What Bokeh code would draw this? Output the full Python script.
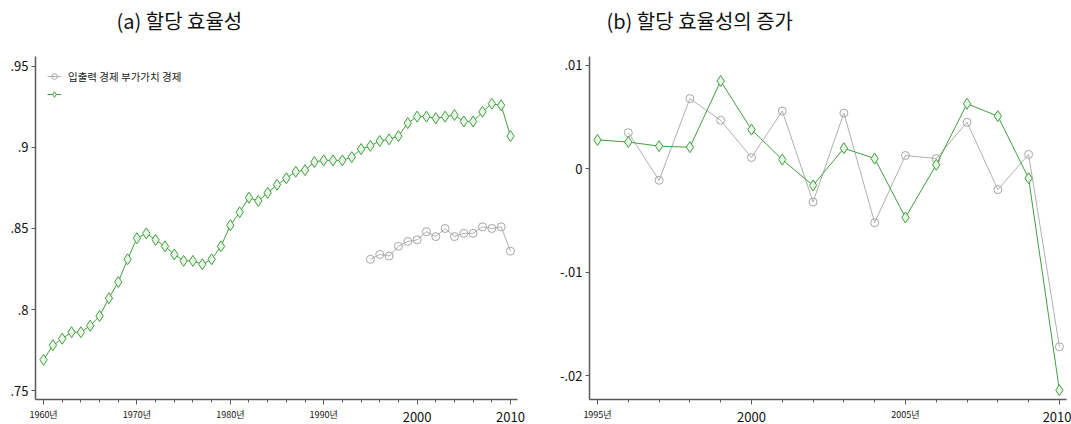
from bokeh.plotting import figure
from bokeh.models import (FixedTicker, Range1d, Legend, LegendItem, Title, LinearAxis)
from bokeh.layouts import row
from bokeh.embed import file_html
from bokeh.resources import INLINE

# ---------------- data ----------------
years_a = list(range(1960, 2011))
va_a = [0.769, 0.778, 0.782, 0.786, 0.786, 0.790, 0.796, 0.807, 0.817, 0.831,
        0.844, 0.847, 0.843, 0.839, 0.834, 0.830, 0.830, 0.828, 0.831, 0.839,
        0.852, 0.860, 0.869, 0.867, 0.872, 0.877, 0.881, 0.885, 0.886, 0.891,
        0.892, 0.892, 0.892, 0.894, 0.899, 0.901, 0.904, 0.905, 0.907, 0.915,
        0.919, 0.919, 0.918, 0.919, 0.920, 0.916, 0.916, 0.922, 0.927, 0.926,
        0.907]
years_io_a = list(range(1995, 2011))
io_a = [0.831, 0.834, 0.833, 0.839, 0.842, 0.843, 0.848, 0.845, 0.850, 0.845,
        0.847, 0.847, 0.851, 0.850, 0.851, 0.836]

years_va_b = list(range(1995, 2011))
va_b = [0.0028, 0.0026, 0.0022, 0.0021, 0.0085, 0.0038, 0.0009, -0.0016, 0.0020,
        0.0010, -0.0047, 0.0004, 0.0063, 0.0051, -0.0009, -0.0214]
years_io_b = list(range(1996, 2011))
io_b = [0.0035, -0.0011, 0.0068, 0.0047, 0.0011, 0.0056, -0.0032, 0.0054, -0.0052,
        0.0013, 0.0010, 0.0045, -0.0020, 0.0014, -0.0172]

yticks_a = [0.75, 0.80, 0.85, 0.90, 0.95]
ytick_labels_a = [".75", ".8", ".85", ".9", ".95"]
yticks_b = [-0.02, -0.01, 0.0, 0.01]
ytick_labels_b = ["-.02", "-.01", "0", ".01"]

xticks_a = [1960, 1970, 1980, 1990, 2000, 2010]
xtick_small_a = ["1960년", "1970년", "1980년", "1990년", "", ""]
xticks_big_a = [2000, 2010]
xtick_big_labels_a = ["2000", "2010"]
xticks_b = [1995, 2000, 2005, 2010]
xtick_small_b = ["1995년", "", "2005년", ""]
xticks_big_b = [2000, 2010]
xtick_big_labels_b = ["2000", "2010"]

legend_labels = ["입출력 경제 부가가치 경제", " "]
titles = ["(a) 할당 효율성", "(b) 할당 효율성의 증가"]

FONT = "Noto Sans CJK KR"
GREEN = "#3f9f3f"
GREEN_FILL = "#eaf5e7"
GREY = "#b0b0b0"
AXIS = "#5a5a5a"


def style(p, xticks, xminor, xsmall, yticks, ylabels, bigticks, biglabels):
    p.grid.visible = False
    p.outline_line_color = None
    p.background_fill_color = "white"
    p.border_fill_color = "white"
    xa = p.xaxis[0]
    xa.ticker = FixedTicker(ticks=xticks, minor_ticks=xminor)
    xa.major_label_overrides = {t: s for t, s in zip(xticks, xsmall)}
    xa.major_label_text_font = FONT
    xa.major_label_text_font_size = "9px"
    xa.major_label_text_color = "#111111"
    xa.major_label_standoff = 3
    xa.major_tick_out = 5
    xa.major_tick_in = 0
    xa.minor_tick_out = 3
    xa.minor_tick_in = 0
    xa.axis_line_color = AXIS
    xa.axis_line_width = 1.5
    xa.major_tick_line_color = AXIS
    xa.minor_tick_line_color = AXIS
    # second (label-only) axis carrying the larger tick labels
    xb = LinearAxis(ticker=FixedTicker(ticks=bigticks, minor_ticks=[]),
                    major_label_overrides={t: s for t, s in zip(bigticks, biglabels)},
                    major_label_text_font=FONT, major_label_text_font_size="13px",
                    major_label_text_color="#111111",
                    major_label_standoff=-12, major_tick_out=0, major_tick_in=0,
                    axis_line_color=None, major_tick_line_color=None,
                    minor_tick_line_color=None)
    p.add_layout(xb, "below")
    ya = p.yaxis[0]
    ya.ticker = FixedTicker(ticks=yticks, minor_ticks=[])
    ya.major_label_overrides = {t: s for t, s in zip(yticks, ylabels)}
    ya.major_label_text_font = FONT
    ya.major_label_text_font_size = "13px"
    ya.major_label_text_color = "#111111"
    ya.major_label_standoff = 3
    ya.major_tick_out = 4
    ya.major_tick_in = 0
    ya.axis_line_color = AXIS
    ya.axis_line_width = 1.5
    ya.major_tick_line_color = AXIS


def add_title(p, text, offset):
    # spacer between frame and title, then the title itself
    p.add_layout(Title(text=" ", text_font_size="8px", standoff=11), "above")
    p.add_layout(Title(text=text, align="left", offset=offset, standoff=0,
                       text_font=FONT, text_font_size="20px",
                       text_font_style="normal", text_color="#111111"), "above")


# ---------------- panel (a) ----------------
pa = figure(width=540, height=424, output_backend="svg", toolbar_location=None,
            title=None,
            x_range=Range1d(1959.14, 2010.75), y_range=Range1d(0.7445, 0.9561),
            min_border_left=35, min_border_right=23, min_border_top=56,
            min_border_bottom=22)
style(pa, xticks_a, list(range(1960, 2011, 2)), xtick_small_a, yticks_a, ytick_labels_a,
      xticks_big_a, xtick_big_labels_a)
add_title(pa, titles[0], 81)
g_io_line = pa.line(years_io_a, io_a, line_color=GREY, line_width=1)
g_io_pts = pa.scatter(years_io_a, io_a, marker="circle", size=8, line_color="#a6a6a6",
                      fill_color="white", fill_alpha=0.0, line_width=1)
g_va_line = pa.line(years_a, va_a, line_color=GREEN, line_width=1)
g_va_pts = pa.scatter(years_a, va_a, marker="diamond", size=11, line_color=GREEN,
                      fill_color=GREEN_FILL, line_width=1)
leg = Legend(items=[LegendItem(label=legend_labels[0], renderers=[g_io_line, g_io_pts]),
                    LegendItem(label=legend_labels[1], renderers=[g_va_line, g_va_pts])],
             location="top_left", margin=12, padding=9, spacing=2,
             glyph_width=14, glyph_height=16, label_height=16, label_standoff=7,
             label_text_font=FONT, label_text_font_size="10.5px",
             label_text_color="#222222",
             border_line_color=None, background_fill_alpha=0)
pa.add_layout(leg)

# ---------------- panel (b) ----------------
pb = figure(width=531, height=424, output_backend="svg", toolbar_location=None,
            title=None,
            x_range=Range1d(1994.74, 2010.23), y_range=Range1d(-0.0223, 0.01087),
            min_border_left=49, min_border_right=5, min_border_top=56,
            min_border_bottom=22)
style(pb, xticks_b, list(range(1995, 2011)), xtick_small_b, yticks_b, ytick_labels_b,
      xticks_big_b, xtick_big_labels_b)
add_title(pb, titles[1], 17)
pb.line(years_io_b, io_b, line_color=GREY, line_width=1)
pb.scatter(years_io_b, io_b, marker="circle", size=8, line_color="#a6a6a6",
           fill_color="white", fill_alpha=0.0, line_width=1)
pb.line(years_va_b, va_b, line_color=GREEN, line_width=1)
pb.scatter(years_va_b, va_b, marker="diamond", size=11, line_color=GREEN,
           fill_color=GREEN_FILL, line_width=1)

layout = row(pa, pb, spacing=0)
open("out.html", "w").write(file_html(layout, INLINE))
